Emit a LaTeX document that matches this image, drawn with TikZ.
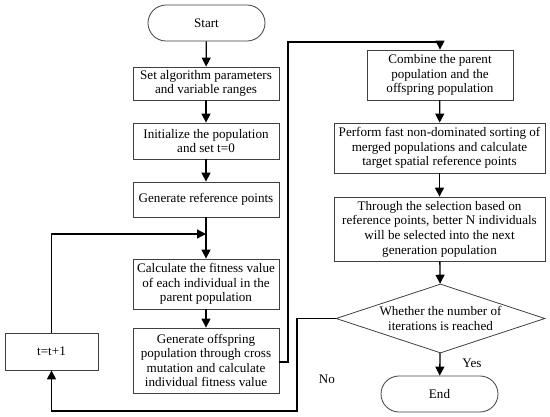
\documentclass[tikz,border=0pt]{standalone}
\usepackage{fontspec}
\setmainfont{Liberation Serif}
\usetikzlibrary{arrows.meta,shapes.geometric}
\begin{document}
\begin{tikzpicture}[x=1pt,y=-1pt,
  every node/.style={font=\fontsize{13.1}{14.6}\selectfont, align=center, inner sep=1pt},
  box/.style={draw=black!75, line width=0.8pt, rectangle, minimum width=146pt},
  term/.style={draw=black!75, line width=0.8pt, rectangle, rounded corners=18pt, minimum width=117pt, minimum height=36pt},
  dec/.style={draw=black!75, line width=0.8pt, diamond, aspect=3, minimum width=209pt, minimum height=69pt, inner sep=0pt},
  conn/.style={line width=1.3pt, -{Triangle[length=9pt,width=9pt]}},
  seg/.style={line width=1.3pt}]
\useasboundingbox (0,0) rectangle (550,417);
\node[term] (start) at (206.5,23) {Start};
\node[box, minimum height=33pt] (set) at (206,83.5) {Set algorithm parameters\\and variable ranges};
\node[box, minimum height=36pt] (init) at (206,141) {Initialize the population\\and set t=0};
\node[box, minimum height=35pt] (gref) at (206,199.5) {Generate reference points};
\node[box, minimum height=50pt] (calc) at (206,284) {Calculate the fitness value\\of each individual in the\\parent population};
\node[box, minimum height=65pt] (off) at (206,360.5) {Generate offspring\\population through cross\\mutation and calculate\\individual fitness value};
\node[box, minimum width=93pt, minimum height=37pt] (t) at (51.5,351.5) {t=t+1};
\node[box, minimum height=50pt] (comb) at (440,75) {Combine the parent\\population and the\\offspring population};
\node[box, minimum width=211pt, minimum height=50pt] (perf) at (439.5,148) {Perform fast non-dominated sorting of\\merged populations and calculate\\target spatial reference points};
\node[box, minimum width=211pt, minimum height=64pt] (thr) at (439.5,229) {Through the selection based on\\reference points, better N individuals\\will be selected into the next\\generation population};
\node[dec] (dia) at (440.5,318.5) {Whether the number of\\iterations is reached};
\node[term] (end) at (439.5,394) {End};
\node (yes) at (472,363) {Yes};
\node (no) at (327,379) {No};
\coordinate (loopin) at (206,234);
\coordinate (c1) at (51.5,234);
\coordinate (c2) at (297,318.5);
\coordinate (c3) at (297,411);
\coordinate (c4) at (51.5,411);
\coordinate (d1) at (288,362);
\coordinate (d2) at (288,42);
\coordinate (d3) at (440,42);
\draw[conn] (start) -- (set);
\draw[conn] (set) -- (init);
\draw[conn] (init) -- (gref);
\draw[conn] (gref) -- (calc);
\draw[conn] (calc) -- (off);
\draw[conn] (t.north) -- (c1) -- (loopin);
\draw[conn] (comb) -- (perf);
\draw[conn] (perf) -- (thr);
\draw[conn] (thr) -- (dia);
\draw[conn] (dia) -- (end);
\draw[conn] (dia.west) -- (c2) -- (c3) -- (c4) -- (t.south);
\draw[conn] (off.east |- d1) -- (d1) -- (d2) -- (d3) -- (comb.north);
\end{tikzpicture}
\end{document}
